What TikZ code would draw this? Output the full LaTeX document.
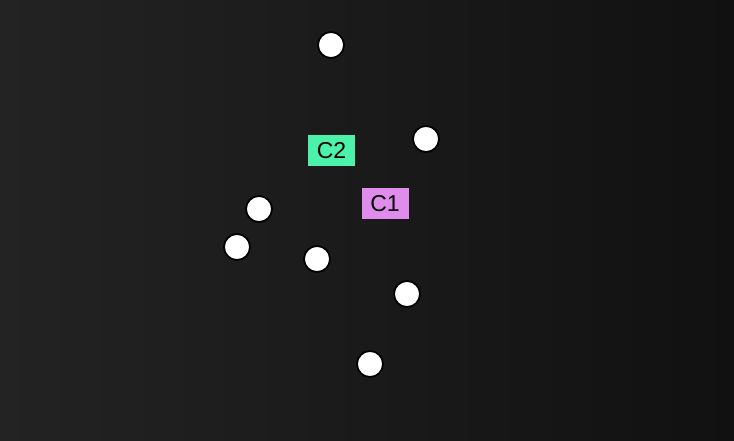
\documentclass[tikz,border=0pt]{standalone}
\usepackage{fontspec}
\setmainfont{Liberation Sans}
\usepackage{tikz}
\definecolor{bgleft}{HTML}{232323}
\definecolor{bgright}{HTML}{111111}
\definecolor{ctwo}{HTML}{4CF2AA}
\definecolor{cone}{HTML}{E08CEC}
\tikzset{
	point/.style={circle, draw=black, line width=1.8pt, fill=white, minimum size=26pt, inner sep=0pt},
	cluster/.style={minimum width=47pt, minimum height=31pt, inner sep=0pt, font=\fontsize{23pt}{26pt}\selectfont, text=black}
}
\begin{document}
\begin{tikzpicture}[x=1pt,y=-1pt]
		
		% Background
		\shade[left color=bgleft, right color=bgright] (0,0) rectangle (734,440);
		\useasboundingbox (0,0) rectangle (734,440);
		
		% Points
		\node [point] (p1) at (331,45) {};
		\node [point] (p2) at (426,139) {};
		\node [point] (p3) at (259,209) {};
		\node [point] (p4) at (237,247) {};
		\node [point] (p5) at (317,259) {};
		\node [point] (p6) at (407,294) {};
		\node [point] (p7) at (370,364) {};
		
		% Centroids
		\node [cluster, fill=ctwo] (c2) at (331.5,150.5) {C2};
		\node [cluster, fill=cone] (c1) at (385,203.5) {C1};
		
\end{tikzpicture}
\end{document}
